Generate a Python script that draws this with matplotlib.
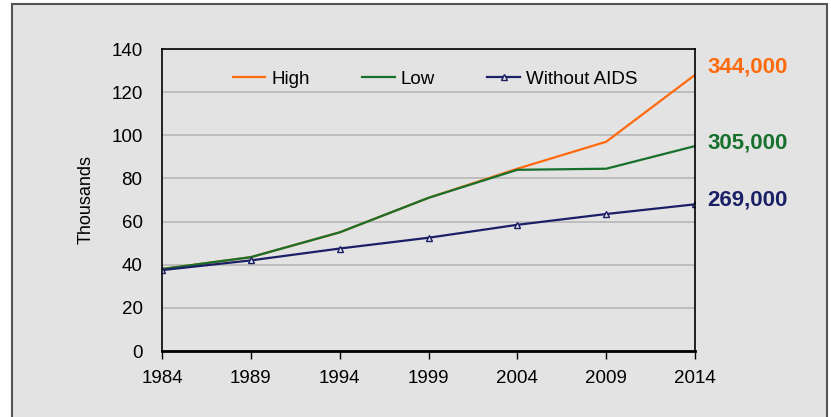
import matplotlib.pyplot as plt
from matplotlib.patches import Rectangle

# Projection series, in thousands
years = [1984, 1989, 1994, 1999, 2004, 2009, 2014]
high = [38, 43.5, 55, 71, 84.5, 97, 128]
low = [38, 43.5, 55, 71, 84, 84.5, 95]
without_aids = [37.5, 42, 47.5, 52.5, 58.5, 63.5, 68]

end_labels = ["344,000", "305,000", "269,000"]
end_label_y = [131.5, 96.5, 70]

orange = "#ff6a0d"
green = "#17702b"
navy = "#1a1f66"
bg = "#e3e3e3"

plt.rcParams["font.family"] = ["Liberation Sans", "DejaVu Sans"]

fig = plt.figure(figsize=(8.31, 4.17), dpi=100)
fig.patch.set_facecolor("white")

# grey panel with a dark frame behind the chart
panel = Rectangle((12 / 831, -0.05), 815 / 831, 1.05 - 4 / 417,
                  transform=fig.transFigure, facecolor=bg,
                  edgecolor="#555555", linewidth=1.5, zorder=-1)
fig.patches.append(panel)

ax = fig.add_axes([162 / 831, 1 - 351 / 417, 533 / 831, 302 / 417])
ax.set_facecolor(bg)

ax.plot(years, high, color=orange, linewidth=1.6, label="High")
ax.plot(years, low, color=green, linewidth=1.6, label="Low")
ax.plot(years, without_aids, color=navy, linewidth=1.6, marker="^",
        markersize=4, markerfacecolor=bg, markeredgecolor=navy,
        markeredgewidth=1, label="Without AIDS")

ax.set_xlim(1984, 2014)
ax.set_ylim(0, 140)
ax.set_xticks(years)
ax.set_yticks(range(0, 141, 20))
ax.grid(axis="y", color="#bdbdbd", linewidth=1.4)
ax.set_axisbelow(True)

for side in ["left", "right", "top", "bottom"]:
    ax.spines[side].set_color("black")
    ax.spines[side].set_linewidth(1.2)
ax.spines["bottom"].set_linewidth(2)

ax.tick_params(axis="x", length=6, width=1, labelsize=13.5, pad=8)
ax.tick_params(axis="y", length=0, labelsize=13.5, pad=14)
ax.set_ylabel("Thousands", fontsize=13, labelpad=12)

ax.legend(loc="upper center", bbox_to_anchor=(0.512, 0.985), ncol=3,
          frameon=False, fontsize=13.5, handlelength=1.75,
          handletextpad=0.3, columnspacing=2.8)

# values written beside the line ends
for text, y, color in zip(end_labels, end_label_y, [orange, green, navy]):
    ax.annotate(text, xy=(1, y), xycoords=("axes fraction", "data"),
                xytext=(9, 0), textcoords="offset points",
                color=color, fontsize=16, fontweight="bold",
                va="center", ha="left", annotation_clip=False)

plt.savefig("out.png", dpi=100, facecolor=fig.get_facecolor())
